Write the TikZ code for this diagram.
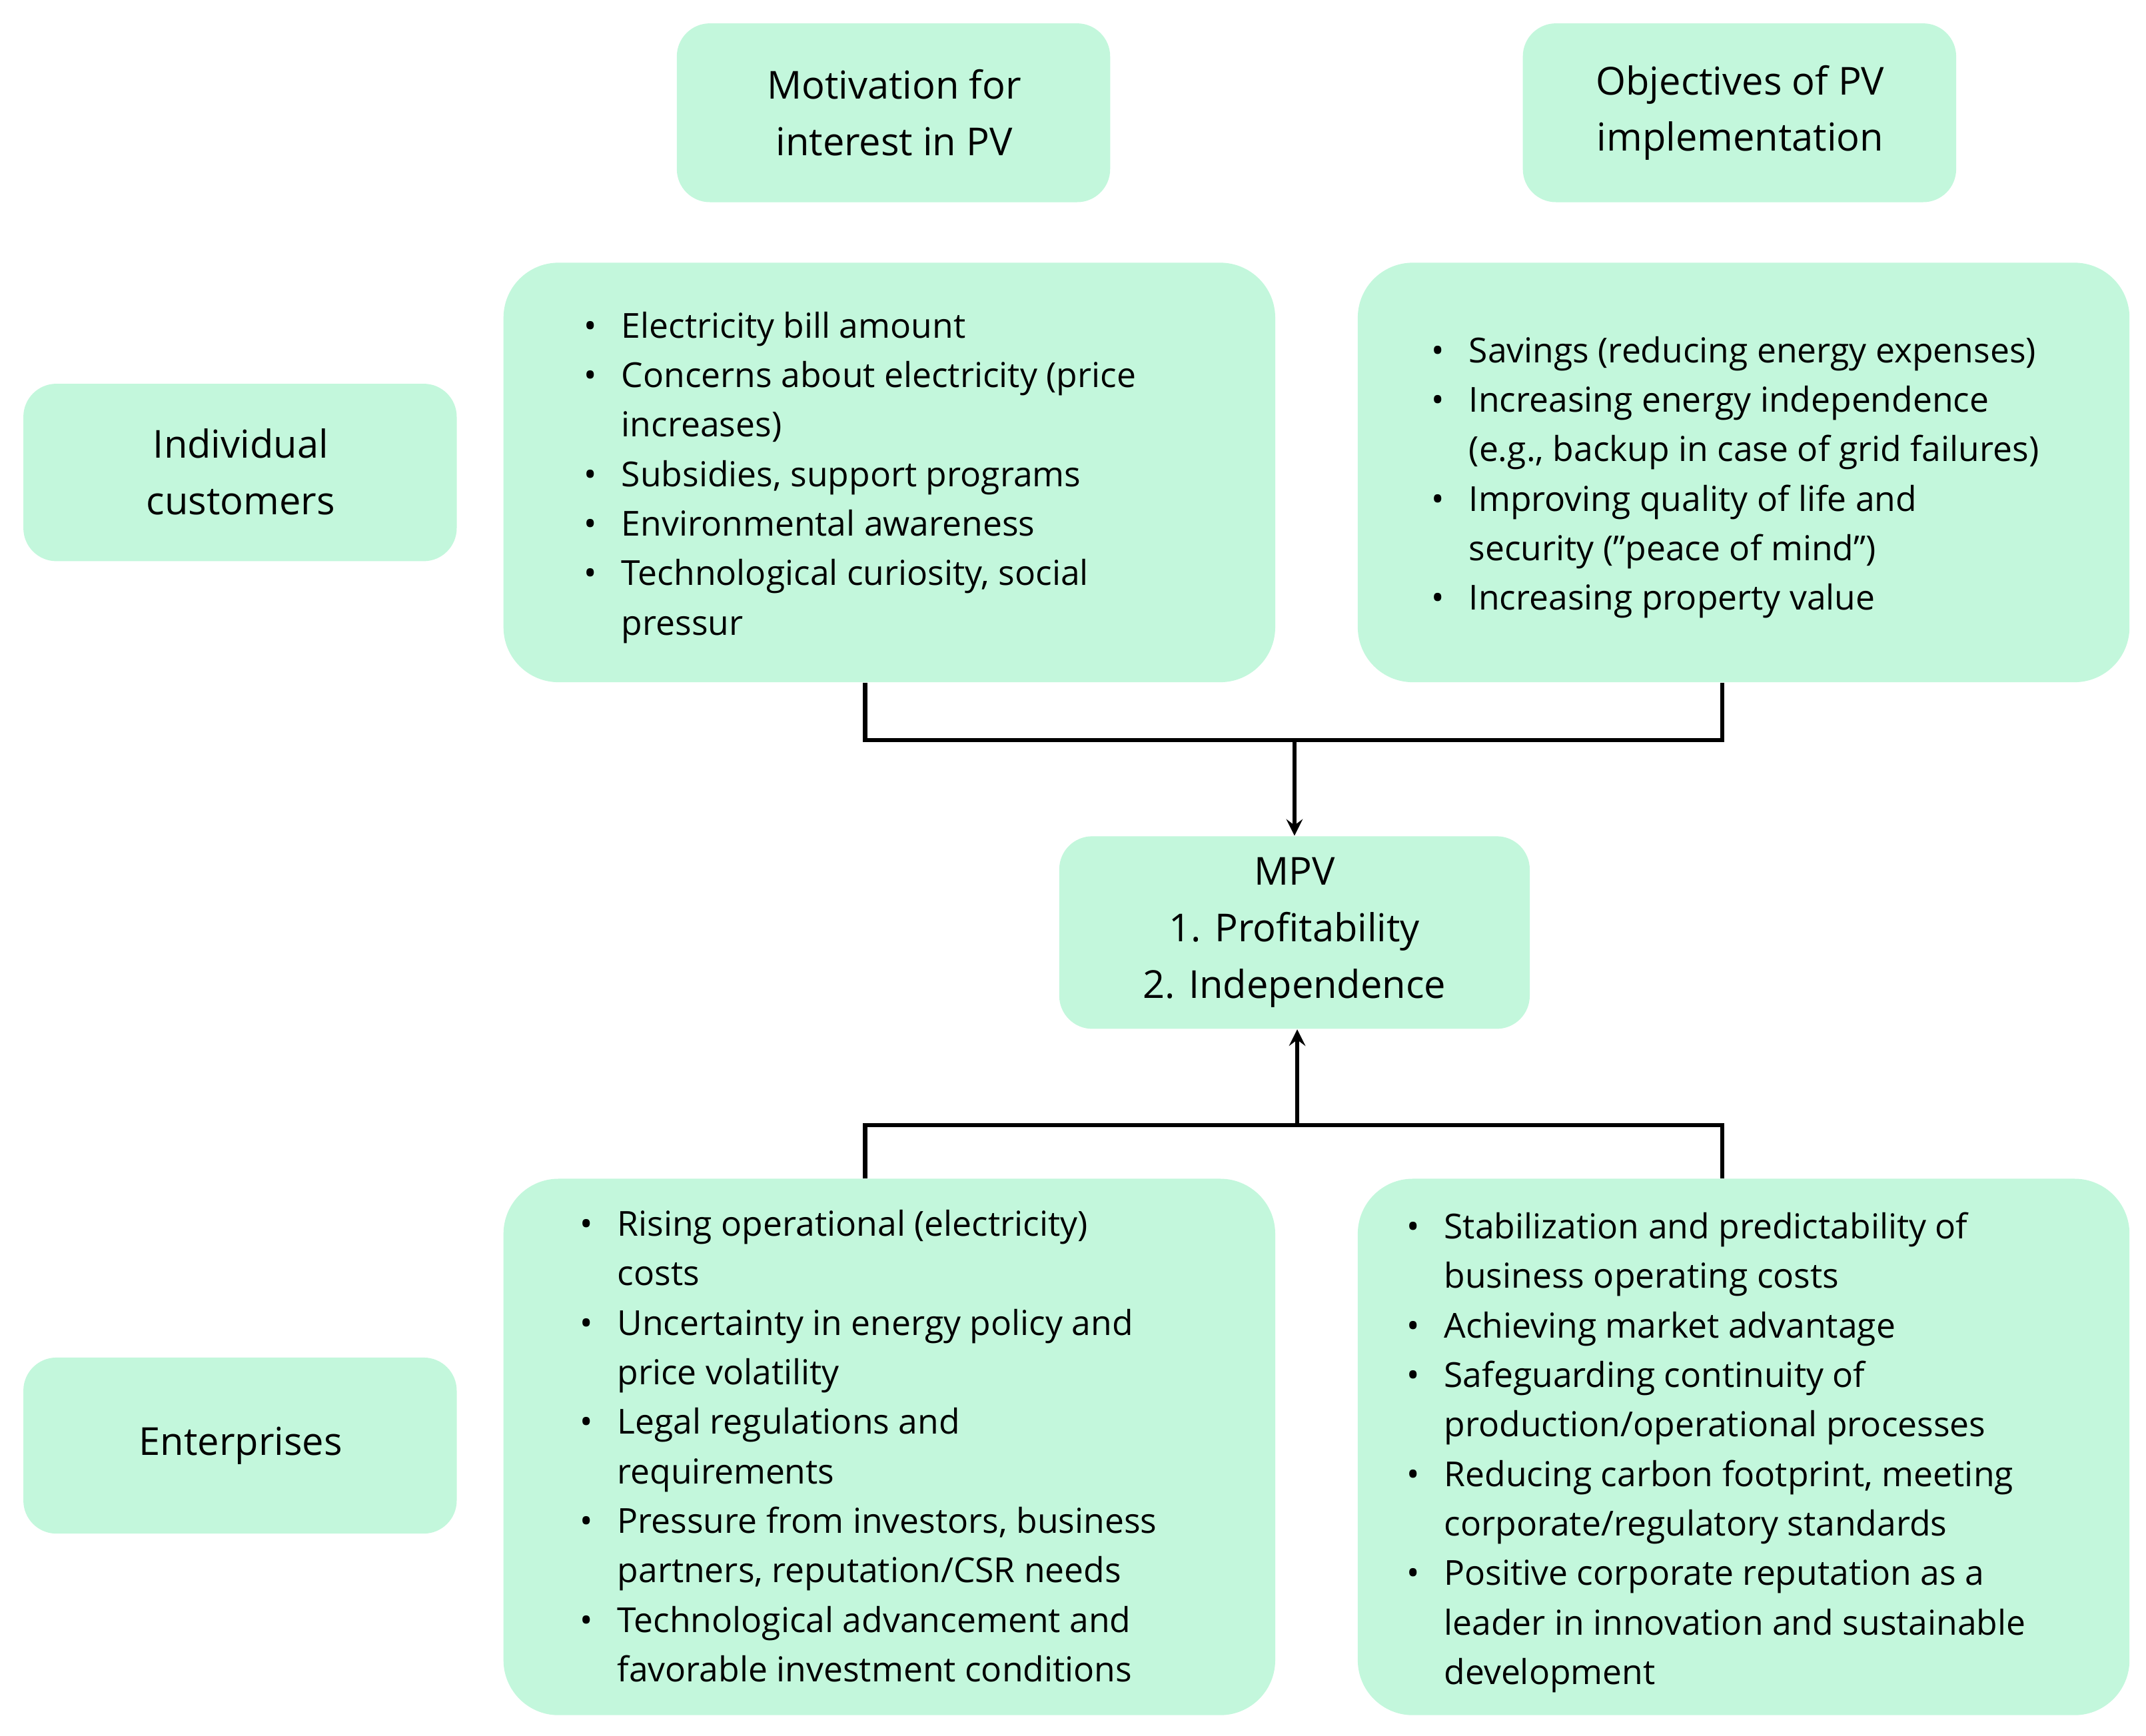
\documentclass[tikz,border=0pt]{standalone}
\usepackage{fontspec}
\setmainfont{Open Sans}
\definecolor{mint}{HTML}{C3F7DC}
\begin{document}
\begin{tikzpicture}[x=0.5pt,y=-0.5pt,
  box/.style={fill=mint,draw=none,rounded corners=12pt},
  big/.style={fill=mint,draw=none,rounded corners=20pt},
  lbl/.style={align=center,font=\fontsize{14}{20.5}\selectfont},
  lst/.style={anchor=north west,inner sep=0pt,align=left,font=\fontsize{12.5}{18}\selectfont},
  conn/.style={line width=1.6pt},
  arr/.style={line width=1.6pt,->,>=stealth}]
\useasboundingbox (0,0) rectangle (1560,1262);
\fill[box] (492,17) rectangle (807,147);
\node[lbl] (mot) at (650,82) {Motivation for\\interest in PV};
\fill[box] (1107,17) rectangle (1422,147);
\node[lbl] (obj) at (1265,82) {Objectives of PV\\implementation};
\fill[box] (17,279) rectangle (332,408);
\node[lbl] (ind) at (175,343) {Individual\\customers};
\fill[box] (17,987) rectangle (332,1115);
\node[lbl] (ent) at (175,1051) {Enterprises};
\node[box,minimum width=171pt,minimum height=70pt] (mpv) at (941,678) {};
\node[lbl] at (mpv.center) {MPV\\1. Profitability\\2. Independence};
\node[big,minimum width=280.5pt,minimum height=152.5pt] (tl) at (646.5,343.5) {};
\node[big,minimum width=280.5pt,minimum height=152.5pt] (tr) at (1267.5,343.5) {};
\node[big,minimum width=280.5pt,minimum height=195pt] (bl) at (646.5,1052) {};
\node[big,minimum width=280.5pt,minimum height=195pt] (br) at (1267.5,1052) {};
\newcommand{\bu}{\textbullet}
\node[lst] (tlt) at (424,220) {\begin{tabular}{@{}l@{\hspace{9pt}}l@{}}
\bu & Electricity bill amount\\
\bu & Concerns about electricity (price\\
 & increases)\\
\bu & Subsidies, support programs\\
\bu & Environmental awareness\\
\bu & Technological curiosity, social\\
 & pressur\end{tabular}};
\node[lst] (trt) at (1040,238) {\begin{tabular}{@{}l@{\hspace{9pt}}l@{}}
\bu & Savings (reducing energy expenses)\\
\bu & Increasing energy independence\\
 & (e.g., backup in case of grid failures)\\
\bu & Improving quality of life and\\
 & security ("peace of mind")\\
\bu & Increasing property value\end{tabular}};
\node[lst] (blt) at (421,873) {\begin{tabular}{@{}l@{\hspace{9pt}}l@{}}
\bu & Rising operational (electricity)\\
 & costs\\
\bu & Uncertainty in energy policy and\\
 & price volatility\\
\bu & Legal regulations and\\
 & requirements\\
\bu & Pressure from investors, business\\
 & partners, reputation/CSR needs\\
\bu & Technological advancement and\\
 & favorable investment conditions\end{tabular}};
\node[lst] (brt) at (1022,875) {\begin{tabular}{@{}l@{\hspace{9pt}}l@{}}
\bu & Stabilization and predictability of\\
 & business operating costs\\
\bu & Achieving market advantage\\
\bu & Safeguarding continuity of\\
 & production/operational processes\\
\bu & Reducing carbon footprint, meeting\\
 & corporate/regulatory standards\\
\bu & Positive corporate reputation as a\\
 & leader in innovation and sustainable\\
 & development\end{tabular}};
\coordinate (j1) at (941,538);
\coordinate (j2) at (943,818);
\draw[conn] (tl.south -| 629,0) |- (j1) -| (tr.south -| 1252,0);
\draw[arr] (j1) -- (mpv.north);
\draw[conn] (bl.north -| 629,0) |- (j2) -| (br.north -| 1252,0);
\draw[arr] (j2) -- (mpv.south -| j2);
\end{tikzpicture}
\end{document}
